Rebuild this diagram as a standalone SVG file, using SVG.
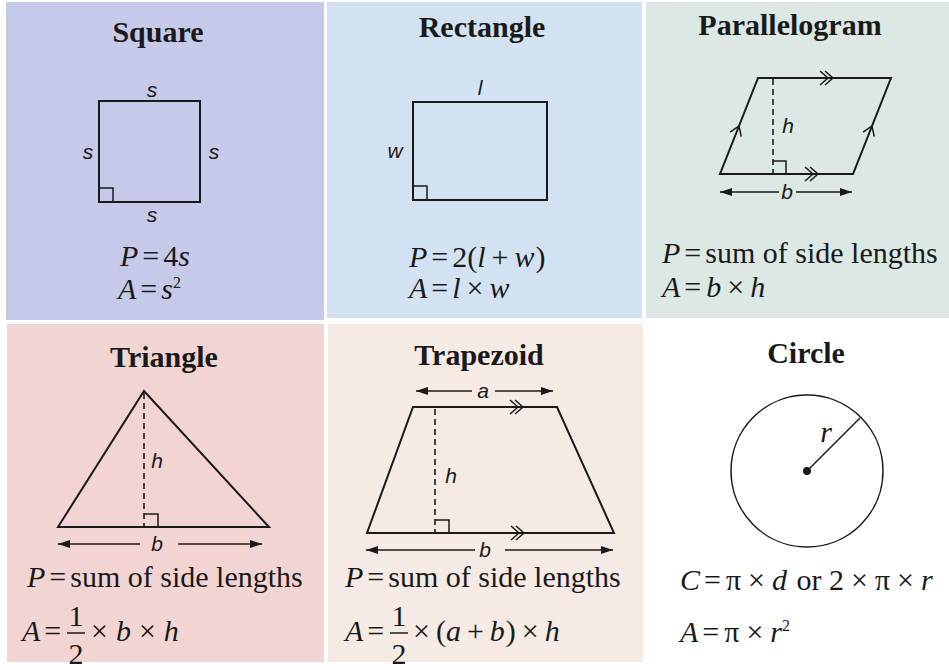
<svg xmlns="http://www.w3.org/2000/svg" xmlns:xlink="http://www.w3.org/1999/xlink" width="949" height="670" viewBox="0 0 949 670">
<style>
.title{font-family:"Liberation Serif","Times New Roman",serif;font-weight:bold;font-size:30px;fill:#1a1a1a;text-anchor:middle}
.f{font-family:"Liberation Serif","Times New Roman",serif;font-size:30px;fill:#1a1a1a}
.i{font-style:italic}
.lab{font-family:"Liberation Sans",Arial,sans-serif;font-style:italic;font-size:21px;fill:#1a1a1a;text-anchor:middle}
.shape{fill:none;stroke:#1a1a1a;stroke-width:2;stroke-linejoin:miter}
.thin{fill:none;stroke:#1a1a1a;stroke-width:1.5}
.dash{fill:none;stroke:#1a1a1a;stroke-width:1.6;stroke-dasharray:6 4}
.dim{stroke:#1a1a1a;stroke-width:1.5;fill:none}
</style>
<defs>
<marker id="ah" markerWidth="14" markerHeight="10" refX="12" refY="4" orient="auto" markerUnits="userSpaceOnUse"><path d="M0,0 L12,4 L0,8 z" fill="#1a1a1a"/></marker>
<g id="dbl"><path d="M-13,-7 L-5,0 L-13,7 M-8,-7 L0,0 L-8,7" fill="none" stroke="#1a1a1a" stroke-width="1.5"/></g>
<g id="sgl"><path d="M-9,-6 L0,0 L-9,6" fill="none" stroke="#1a1a1a" stroke-width="1.5"/></g>
</defs>
<rect width="949" height="670" fill="#ffffff"/>

<g id="square">
<rect x="6" y="2" width="318" height="318" fill="#c6c9e8"/>
<text class="title" x="158" y="42">Square</text>
<rect class="shape" x="99" y="101" width="101" height="101"/>
<path class="thin" d="M99,188 H113 V202"/>
<text class="lab" x="152" y="97">s</text>
<text class="lab" x="88" y="159">s</text>
<text class="lab" x="214" y="159">s</text>
<text class="lab" x="152" y="222">s</text>
<text class="f" x="120" y="266"><tspan class="i">P</tspan><tspan dx="4">=</tspan><tspan dx="4">4</tspan><tspan class="i">s</tspan></text>
<text class="f" x="118" y="299"><tspan class="i">A</tspan><tspan dx="4">=</tspan><tspan dx="4" class="i">s</tspan><tspan font-size="16" dy="-11">2</tspan></text>
</g>

<g id="rectangle">
<rect x="327" y="2" width="315" height="316" fill="#d3e2f2"/>
<text class="title" x="482" y="37">Rectangle</text>
<rect class="shape" x="413" y="102" width="134" height="98"/>
<path class="thin" d="M413,186 H427 V200"/>
<text class="lab" x="480" y="95">l</text>
<text class="lab" x="395" y="158">w</text>
<text class="f" x="409" y="267"><tspan class="i">P</tspan><tspan dx="4">=</tspan><tspan dx="4">2(</tspan><tspan class="i">l</tspan><tspan dx="6">+</tspan><tspan dx="6" class="i">w</tspan><tspan dx="1">)</tspan></text>
<text class="f" x="409" y="298"><tspan class="i">A</tspan><tspan dx="4">=</tspan><tspan dx="4" class="i">l</tspan><tspan dx="6">×</tspan><tspan dx="6" class="i">w</tspan></text>
</g>

<g id="parallelogram">
<rect x="646" y="2" width="303" height="316" fill="#dce8e4"/>
<text class="title" x="790" y="35">Parallelogram</text>
<path class="shape" d="M758,78 L891,78 L853,174 L720,174 Z"/>
<line class="dash" x1="773" y1="79" x2="773" y2="173"/>
<path class="thin" d="M773,161 H786 V174"/>
<use xlink:href="#dbl" x="833" y="78"/>
<use xlink:href="#dbl" x="818" y="174"/>
<use xlink:href="#sgl" transform="translate(739,126) rotate(-68.4)"/>
<use xlink:href="#sgl" transform="translate(872,126) rotate(-68.4)"/>
<text class="lab" x="788" y="133">h</text>
<line class="dim" x1="779" y1="192" x2="720" y2="192" marker-end="url(#ah)"/>
<line class="dim" x1="796" y1="192" x2="852" y2="192" marker-end="url(#ah)"/>
<text class="lab" x="787" y="199">b</text>
<text class="f" x="662" y="263"><tspan class="i">P</tspan><tspan dx="4">=</tspan><tspan dx="4">sum of side lengths</tspan></text>
<text class="f" x="662" y="297"><tspan class="i">A</tspan><tspan dx="4">=</tspan><tspan dx="5" class="i">b</tspan><tspan dx="6">×</tspan><tspan dx="6" class="i">h</tspan></text>
</g>

<g id="triangle">
<rect x="7" y="324" width="317" height="338" fill="#f2d5d3"/>
<text class="title" x="164" y="367">Triangle</text>
<path class="shape" d="M144,391 L269,527 L58,527 Z"/>
<line class="dash" x1="144" y1="393" x2="144" y2="526"/>
<path class="thin" d="M144,514 H158 V527"/>
<text class="lab" x="157" y="468">h</text>
<line class="dim" x1="140" y1="544" x2="58" y2="544" marker-end="url(#ah)"/>
<line class="dim" x1="178" y1="544" x2="262" y2="544" marker-end="url(#ah)"/>
<text class="lab" x="157" y="551">b</text>
<text class="f" x="27" y="587"><tspan class="i">P</tspan><tspan dx="4">=</tspan><tspan dx="4">sum of side lengths</tspan></text>
<text class="f" x="22" y="641"><tspan class="i">A</tspan><tspan dx="4">=</tspan></text>
<text class="f" x="76" y="626" text-anchor="middle">1</text>
<line x1="67" y1="633" x2="85" y2="633" stroke="#1a1a1a" stroke-width="1.5"/>
<text class="f" x="76" y="664" text-anchor="middle">2</text>
<text class="f" x="91" y="641"><tspan>×</tspan><tspan dx="8" class="i">b</tspan><tspan dx="8">×</tspan><tspan dx="8" class="i">h</tspan></text>
</g>

<g id="trapezoid">
<rect x="328" y="324" width="315" height="338" fill="#f5ebe4"/>
<text class="title" x="479" y="365">Trapezoid</text>
<path class="shape" d="M413,407 L557,407 L614,533 L367,533 Z"/>
<line class="dash" x1="435" y1="409" x2="435" y2="532"/>
<path class="thin" d="M435,520 H449 V533"/>
<use xlink:href="#dbl" x="523" y="407"/>
<use xlink:href="#dbl" x="524" y="533"/>
<text class="lab" x="451" y="483">h</text>
<line class="dim" x1="472" y1="391" x2="416" y2="391" marker-end="url(#ah)"/>
<line class="dim" x1="495" y1="391" x2="553" y2="391" marker-end="url(#ah)"/>
<text class="lab" x="483" y="398">a</text>
<line class="dim" x1="475" y1="550" x2="366" y2="550" marker-end="url(#ah)"/>
<line class="dim" x1="505" y1="550" x2="613" y2="550" marker-end="url(#ah)"/>
<text class="lab" x="485" y="557">b</text>
<text class="f" x="345" y="587"><tspan class="i">P</tspan><tspan dx="4">=</tspan><tspan dx="4">sum of side lengths</tspan></text>
<text class="f" x="345" y="641"><tspan class="i">A</tspan><tspan dx="4">=</tspan></text>
<text class="f" x="399" y="626" text-anchor="middle">1</text>
<line x1="390" y1="633" x2="408" y2="633" stroke="#1a1a1a" stroke-width="1.5"/>
<text class="f" x="399" y="664" text-anchor="middle">2</text>
<text class="f" x="413" y="641"><tspan>×</tspan><tspan dx="6">(</tspan><tspan class="i">a</tspan><tspan dx="6">+</tspan><tspan dx="6" class="i">b</tspan><tspan dx="1">)</tspan><tspan dx="6">×</tspan><tspan dx="6" class="i">h</tspan></text>
</g>

<g id="circle">
<text class="title" x="806" y="363">Circle</text>
<circle class="thin" cx="807" cy="471" r="76"/>
<line class="thin" x1="807" y1="471" x2="860" y2="418"/>
<circle cx="807" cy="471" r="4" fill="#1a1a1a"/>
<text class="f i" x="826" y="442" text-anchor="middle" font-size="25">r</text>
<text class="f" x="680" y="590"><tspan class="i">C</tspan><tspan dx="4">=</tspan><tspan dx="5">π</tspan><tspan dx="7">×</tspan><tspan dx="7" class="i">d</tspan><tspan dx="2"> or 2</tspan><tspan dx="7">×</tspan><tspan dx="7">π</tspan><tspan dx="7">×</tspan><tspan dx="7" class="i">r</tspan></text>
<text class="f" x="680" y="642"><tspan class="i">A</tspan><tspan dx="4">=</tspan><tspan dx="5">π</tspan><tspan dx="7">×</tspan><tspan dx="7" class="i">r</tspan><tspan font-size="16" dy="-11">2</tspan></text>
</g>
</svg>
